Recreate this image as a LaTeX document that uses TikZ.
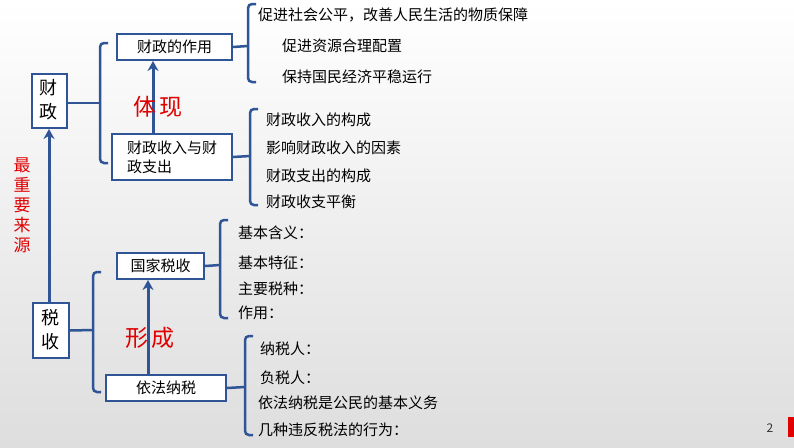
\documentclass[tikz,border=0pt]{standalone}
\usepackage{fontspec}
\setmainfont{Noto Sans CJK SC}
\usetikzlibrary{arrows.meta}
\definecolor{bl}{HTML}{2F5597}
\definecolor{rd}{HTML}{E00000}
\begin{document}
\begin{tikzpicture}[x=1pt,y=-1pt,
 box/.style={draw=bl,line width=2pt,fill=white,inner sep=3pt,font=\fontsize{15}{17}\selectfont,anchor=north west,align=left},
 txt/.style={anchor=west,inner sep=0pt,font=\fontsize{15}{17}\selectfont},
 br/.style={draw=bl,line width=2.5pt,rounded corners=4pt},
 stem/.style={draw=bl,line width=2.5pt},
 arr/.style={draw=bl,line width=3pt,-{Stealth[length=10pt,width=11pt]}},
 lab/.style={text=rd,font=\fontsize{23}{25}\selectfont,inner sep=0pt}]
\shade[top color=white,bottom color=black!13] (0,0) rectangle (794,447);
\useasboundingbox (0,0) rectangle (794,447);
\fill[rd] (788,417) rectangle (794,437);
\node[font=\fontsize{12}{14}\selectfont,text=black!80] (pg) at (770,428) {2};
% boxes
\node[box,minimum width=35pt,minimum height=54pt] (cz) at (31,73) {};
\node[font=\fontsize{18}{24}\selectfont,align=center] (czt) at (48.5,100) {财\\政};
\node[box,minimum width=36pt,minimum height=55pt] (ss) at (32,302) {};
\node[font=\fontsize{18}{24}\selectfont,align=center] (sst) at (50,329.5) {税\\收};
\node[box,minimum width=115pt,minimum height=26pt] (zy) at (116,33) {财政的作用};
\node[box,minimum width=120pt,minimum height=46pt,inner sep=4pt,font=\fontsize{15}{19}\selectfont] (sr) at (111,133) {财政收入与财\\政支出};
\node[box,minimum width=87pt,minimum height=26pt] (gj) at (116,252) {国家税收};
\node[box,minimum width=120pt,minimum height=26pt] (yf) at (105,374) {依法纳税};
% braces
\draw[br] (108,43) -- (100,43) -- (100,163) -- (108,163);
\draw[stem] (cz.east |- 0,103) -- (100,103);
\draw[br] (256,4) -- (248,4) -- (248,82) -- (256,82);
\draw[stem] (zy.east) -- (248,46);
\draw[br] (258,109) -- (250,109) -- (250,205) -- (258,205);
\draw[stem] (sr.east) -- (250,156);
\draw[br] (228,220) -- (220,220) -- (220,318) -- (228,318);
\draw[stem] (gj.east) -- (220,265);
\draw[br] (101,272) -- (93,272) -- (93,392) -- (101,392);
\draw[stem] (ss.east) -- (93,330);
\draw[br] (253,336) -- (245,336) -- (245,435) -- (253,435);
\draw[stem] (yf.east) -- (245,387);
% texts
\node[txt] (t1) at (258,15) {促进社会公平，改善人民生活的物质保障};
\node[txt] (t2) at (282,46) {促进资源合理配置};
\node[txt] (t3) at (282,77) {保持国民经济平稳运行};
\node[txt] (t4) at (266,120) {财政收入的构成};
\node[txt] (t5) at (266,148) {影响财政收入的因素};
\node[txt] (t6) at (266,176) {财政支出的构成};
\node[txt] (t7) at (266,202) {财政收支平衡};
\node[txt] (t8) at (238,233) {基本含义：};
\node[txt] (t9) at (238,263) {基本特征：};
\node[txt] (t10) at (238,289) {主要税种：};
\node[txt] (t11) at (238,313) {作用：};
\node[txt] (t12) at (260,349) {纳税人：};
\node[txt] (t13) at (260,378) {负税人：};
\node[txt] (t14) at (258,403) {依法纳税是公民的基本义务};
\node[txt] (t15) at (258,430) {几种违反税法的行为：};
% arrows
\draw[arr] (sr.north -| 153,0) -- (zy.south -| 153,0);
\draw[arr] (yf.north -| 148,0) -- (gj.south -| 148,0);
\draw[arr] (ss.north -| 49,0) -- (cz.south -| 49,0);
\node[lab] (l1) at (158,107) {体\,现};
\node[lab] (l2) at (150,338) {形\,成};
\node[text=rd,font=\fontsize{17}{20}\selectfont,align=center,inner sep=0pt] (l3) at (22,205) {最\\重\\要\\来\\源};
\end{tikzpicture}
\end{document}
